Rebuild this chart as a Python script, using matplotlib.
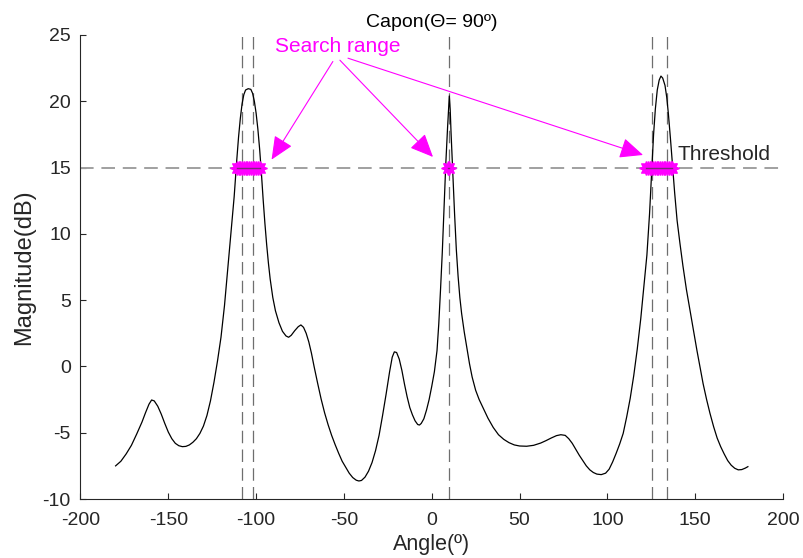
import numpy as np
import matplotlib
matplotlib.use('Agg')
import matplotlib.pyplot as plt

######################### Data ####################################################
ANGLE = [-180, -177, -174, -171, -168, -165, -163, -161, -159.5, -158,
         -156, -154, -152, -150, -148, -146, -144, -142, -140, -138,
         -136, -134, -132, -130, -128, -126, -124, -122, -120, -118,
         -116, -114, -112.5, -111, -110, -109, -108, -107, -106, -104.5,
         -103, -102, -101, -100, -99, -98, -97, -96, -95, -94,
         -93, -92, -90.5, -89, -87, -85, -83, -81.5, -80, -78,
         -76, -74.5, -73, -71.5, -70, -68.5, -67, -65, -63, -61,
         -59, -57, -55, -53, -51, -49, -47, -45, -43, -41.5,
         -40, -38, -36, -34, -32, -30, -28, -26, -24, -22.5,
         -21.3, -20, -18.5, -17, -15.5, -14, -12.5, -11, -9.5, -8,
         -7, -6, -4.5, -3, -1.5, 0, 1.5, 3, 4, 5,
         6, 7, 8, 9, 10, 10.5, 11, 12, 13, 14,
         15, 16, 17, 18.5, 20, 21.5, 23, 25, 27, 29.5,
         32, 35, 38, 41, 44, 47, 50, 54, 58, 62,
         65, 68, 71, 73.5, 76, 78, 80, 82, 84, 86,
         88, 90, 92, 94, 96.5, 99, 101, 103, 105, 107,
         109, 111, 113, 115, 117, 119, 121, 122.5, 124, 125.2,
         126.3, 127.3, 128.4, 129.5, 130.5, 131.5, 132.8, 133.8, 134.7, 135.9,
         137.2, 138.3, 139.7, 141.3, 143, 145, 147, 149, 151, 152.7,
         154.5, 156.5, 158.4, 160.5, 162.5, 164.5, 166.5, 168.5, 170.5, 172.5,
         174.5, 176.5, 178.5, 180]
MAG_DB = [-7.5, -7.15, -6.6, -5.95, -5.1, -4.2, -3.5, -2.85, -2.53, -2.6,
          -3.0, -3.6, -4.3, -4.95, -5.45, -5.8, -5.98, -6.05, -6.03, -5.92,
          -5.72, -5.45, -5.05, -4.5, -3.7, -2.6, -1.2, 0.4, 2.2, 4.6,
          7.6, 10.6, 12.8, 15.6, 17.3, 18.7, 19.8, 20.5, 20.85, 20.95,
          20.9, 20.6, 20.0, 19.1, 17.9, 16.4, 14.6, 12.6, 10.8, 9.2,
          7.8, 6.6, 5.2, 4.2, 3.3, 2.65, 2.3, 2.2, 2.35, 2.7,
          3.0, 3.13, 2.95, 2.5, 1.85, 1.0, 0.0, -1.25, -2.45, -3.5,
          -4.4, -5.2, -5.9, -6.55, -7.15, -7.6, -8.05, -8.38, -8.58, -8.64,
          -8.6, -8.35, -7.9, -7.25, -6.35, -5.2, -3.7, -2.1, -0.4, 0.7,
          1.1, 1.05, 0.55, -0.3, -1.35, -2.3, -3.1, -3.65, -4.1, -4.38,
          -4.42, -4.3, -3.95, -3.3, -2.5, -1.5, -0.4, 1.2, 3.2, 5.8,
          8.6, 12.0, 15.3, 18.0, 20.4, 19.4, 17.6, 14.6, 11.5, 8.8,
          6.8, 5.2, 4.0, 2.6, 1.4, 0.2, -0.8, -1.8, -2.5, -3.2,
          -3.9, -4.6, -5.15, -5.5, -5.75, -5.92, -6.0, -6.02, -5.95, -5.78,
          -5.6, -5.4, -5.22, -5.15, -5.2, -5.45, -5.8, -6.25, -6.7, -7.1,
          -7.5, -7.8, -8.0, -8.12, -8.16, -8.05, -7.75, -7.2, -6.55, -5.85,
          -5.05, -3.8, -2.4, -0.7, 1.3, 3.6, 6.3, 8.4, 11.5, 14.7,
          17.5, 19.4, 20.85, 21.6, 21.9, 21.75, 21.2, 20.3, 19.1, 17.2,
          15.0, 13.1, 11.0, 9.3, 7.6, 5.8, 4.26, 2.7, 1.2, 0.0,
          -1.3, -2.5, -3.53, -4.55, -5.4, -6.05, -6.6, -7.1, -7.45, -7.68,
          -7.8, -7.78, -7.67, -7.56]

THRESHOLD = 15
# estimated DOAs (vertical dashed lines)
DOA_LINES = [-108, -101.5, 10, 125.2, 134.1]
# angles flagged inside the search range (magenta markers)
SEARCH_LEFT = [-111, -110, -109, -108, -107, -106, -105, -104, -103, -102, -101, -100, -99, -98]
SEARCH_MID = [9, 10]
SEARCH_RIGHT = [122, 123, 124, 125, 126, 127, 128, 129, 130, 131, 132, 133, 134, 135, 136, 137]

ARROW_TIPS = [(-91.2, 15.6), (0.7, 15.8), (120.3, 15.95)]
ARROW_TAILS = [(-56.3, 23.0), (-52.3, 23.1), (-47.7, 23.25)]
###################################################################################

plt.rcParams['font.family'] = ['Liberation Sans', 'DejaVu Sans']
plt.rcParams['axes.unicode_minus'] = False

fig = plt.figure(figsize=(8.04, 5.58), dpi=100)
ax = fig.add_axes([0.1001, 0.1057, 0.8738, 0.8316])

# Spectrum
ax.plot(ANGLE, MAG_DB, color='black', linewidth=0.9, zorder=3)

# Threshold line
ax.axhline(THRESHOLD, color='#a0a0a0', linewidth=1.4, linestyle=(0, (7, 4)), zorder=2)

# DOA lines
for a in DOA_LINES:
    ax.axvline(a, color='#6e6e6e', linewidth=0.9, linestyle=(0, (10, 5)), zorder=2)

# Search range markers
for grp in [SEARCH_LEFT, SEARCH_MID, SEARCH_RIGHT]:
    ax.plot(grp, [THRESHOLD] * len(grp), linestyle='none', marker=(8, 1, 0),
            markersize=10, color='magenta', markeredgecolor='magenta', zorder=4)
    ax.plot(grp, [THRESHOLD] * len(grp), color='#7a2a7a', linewidth=1.0, zorder=4)

# Annotation
ax.text(-53.4, 24.1, 'Search range', color='magenta', fontsize=15,
        ha='center', va='center', zorder=5)
for tail, tip in zip(ARROW_TAILS, ARROW_TIPS):
    ax.annotate('', xy=tip, xytext=tail,
                arrowprops=dict(arrowstyle='-|>,head_length=0.9,head_width=0.4',
                                mutation_scale=16, color='magenta', lw=0.8,
                                shrinkA=0, shrinkB=0), zorder=5)
ax.text(140.2, 16.0, 'Threshold', color='#262626', fontsize=15, ha='left', va='center')

# Axes
ax.set_xlim(-200, 200)
ax.set_ylim(-10, 25)
ax.set_xticks(np.arange(-200, 201, 50))
ax.set_yticks(np.arange(-10, 26, 5))
ax.spines['top'].set_visible(False)
ax.spines['right'].set_visible(False)
for s in ['left', 'bottom']:
    ax.spines[s].set_color('#262626')
    ax.spines[s].set_linewidth(0.8)
ax.tick_params(direction='in', length=4, width=0.8, colors='#262626', labelsize=14)
ax.tick_params(axis='x', pad=9)
ax.tick_params(axis='y', pad=7)

ax.set_xlabel('Angle(º)', fontsize=15.5, color='#262626', labelpad=4)
ax.set_ylabel('Magnitude(dB)', fontsize=17, color='#262626', labelpad=5)
ax.set_title('Capon(Θ= 90º)', fontsize=14, color='black', pad=6)

fig.savefig('out.png', dpi=100)
